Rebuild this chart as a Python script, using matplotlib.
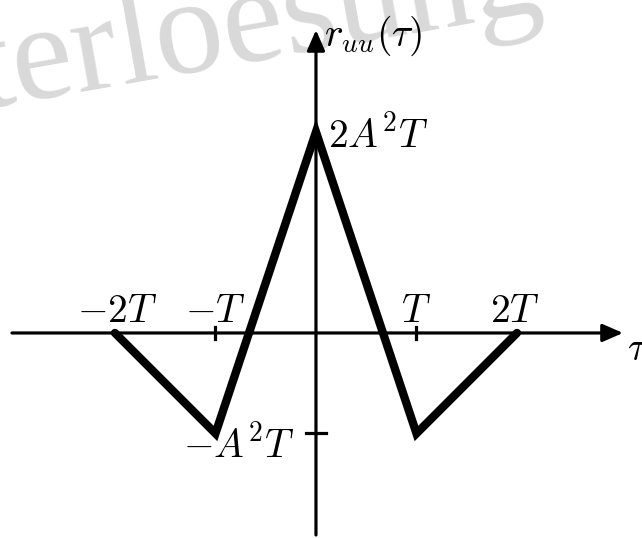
import numpy as np
import matplotlib.pyplot as plt

# Autokorrelation r_uu(tau), in Einheiten von T und A^2 T
tau = [-2, -1, 0, 1, 2]
r_uu = [0, -1, 2, -1, 0]

xticks = [-2, -1, 1, 2]
xtick_labels = [r'$-2T$', r'$-T$', r'$T$', r'$2T$']
ytick_pos = [2, -1]
ytick_labels = [r'$2A^2T$', r'$-A^2T$']

plt.rcParams['mathtext.fontset'] = 'cm'

fig = plt.figure(figsize=(6.42, 5.38), dpi=100)
ax = fig.add_axes([0, 0, 1, 1])
ax.set_xlim(-3.144, 3.244)
ax.set_ylim(-2.040, 3.313)
ax.axis('off')

# Wasserzeichen (hinter allem)
ax.text(545 / 642, 1 - 10 / 538, 'Musterloesung', fontsize=99, family='Liberation Serif',
        color='#d9d9d9', rotation=10, rotation_mode='anchor', ha='right', va='baseline',
        transform=fig.transFigure, zorder=0)

# Achsen mit Pfeilen
pfeil = dict(arrowstyle='-|>,head_length=0.62,head_width=0.27', lw=2.3, color='k',
             shrinkA=0, shrinkB=0, mutation_scale=20)
ax.annotate('', xy=(3.055, 0), xytext=(-3.025, 0), arrowprops=pfeil, zorder=2)
ax.annotate('', xy=(0, 3.015), xytext=(0, -2.01), arrowprops=pfeil, zorder=2)

# Ticks
for xt in [-1, 1]:
    ax.plot([xt, xt], [-0.06, 0.06], color='k', lw=2.3)
ax.plot([-0.1, 0.1], [-1, -1], color='k', lw=2.3)

# Kurve
ax.plot(tau, r_uu, color='k', lw=6.0, solid_capstyle='round', solid_joinstyle='miter',
        zorder=3)

fs = 28.5
for xt, lab in zip(xticks, xtick_labels):
    ax.text(xt * 0.99 if abs(xt) == 2 else xt, 0.11, lab, fontsize=fs, ha='center',
            va='baseline', zorder=4)
ax.text(0.12, 1.84, ytick_labels[0], fontsize=fs, ha='left', va='baseline', zorder=4)
ax.text(-0.21, -1.244, ytick_labels[1], fontsize=fs, ha='right', va='baseline', zorder=4)
ax.text(0.08, 2.96, r'$r_{uu}(\tau)$', fontsize=fs, ha='left', va='center', zorder=4)
ax.text(3.09, -0.27, r'$\tau$', fontsize=fs, ha='left', va='baseline', zorder=4)

fig.savefig('out.png', dpi=100)
